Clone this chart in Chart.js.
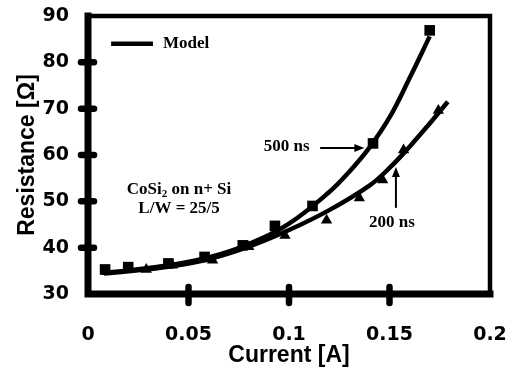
<!DOCTYPE html>
<html>
<head>
<meta charset="utf-8">
<script src="https://cdn.jsdelivr.net/npm/chart.js@4.4.1/dist/chart.umd.min.js"></script>
<style>
  html, body { margin: 0; padding: 0; background: #fff; }
  #wrap { width: 507px; height: 371px; position: relative; }
</style>
</head>
<body>
<div id="wrap"><canvas id="c" width="507" height="371"></canvas></div>
<script>
// Axis ticks
const xTicks = [0, 0.05, 0.1, 0.15, 0.2];
const xTickLabels = ['0', '0.05', '0.1', '0.15', '0.2'];
const yTicks = [30, 40, 50, 60, 70, 80, 90];

// Measured resistance, 500 ns pulses (squares)
const meas500I = [0.0085, 0.020, 0.040, 0.058, 0.077, 0.093, 0.1117, 0.1418, 0.170];
const meas500R = [35.3, 35.8, 36.6, 38.0, 40.5, 44.7, 49.0, 62.5, 86.9];

// Measured resistance, 200 ns pulses (triangles)
const meas200I = [0.0095, 0.029, 0.042, 0.062, 0.080, 0.098, 0.1187, 0.135, 0.1466, 0.157, 0.1743];
const meas200R = [34.8, 35.3, 36.2, 37.3, 40.2, 42.6, 45.9, 50.7, 54.6, 61.1, 69.6];

// Model curves
const model500I = [0.008, 0.02, 0.04, 0.06, 0.08, 0.10, 0.12, 0.13, 0.14, 0.15, 0.16, 0.17];
const model500R = [34.6, 35.1, 36.2, 37.9, 40.8, 45.2, 52.0, 56.4, 61.6, 68.1, 76.6, 85.6];
const model200I = [0.008, 0.02, 0.04, 0.06, 0.08, 0.10, 0.12, 0.14, 0.15, 0.16, 0.17, 0.179];
const model200R = [34.4, 34.9, 35.9, 37.5, 40.2, 43.8, 48.1, 53.4, 57.2, 61.8, 66.8, 71.5];

const pts = (xs, ys) => xs.map((x, i) => ({ x: x, y: ys[i] }));

const serifBold = 'bold 17px "Liberation Serif", "Times New Roman", serif';
const serifSub = 'bold 11px "Liberation Serif", "Times New Roman", serif';

// Frame, crossing tick marks, legend and text notes
const decorations = {
  id: 'decorations',
  afterDatasetsDraw(chart) {
    const ctx = chart.ctx;
    const xs = chart.scales.x, ys = chart.scales.y;
    const a = chart.chartArea;
    const px = v => xs.getPixelForValue(v);
    const py = v => ys.getPixelForValue(v);
    ctx.save();
    ctx.strokeStyle = '#000';
    ctx.fillStyle = '#000';

    // top and right border
    ctx.lineWidth = 4.5;
    ctx.lineCap = 'square';
    ctx.beginPath();
    ctx.moveTo(a.left, a.top);
    ctx.lineTo(a.right, a.top);
    ctx.lineTo(a.right, a.bottom);
    ctx.stroke();
    // left and bottom axes
    ctx.lineWidth = 7;
    ctx.beginPath();
    ctx.moveTo(a.left, a.top);
    ctx.lineTo(a.left, a.bottom);
    ctx.lineTo(a.right, a.bottom);
    ctx.stroke();

    // tick marks crossing the axes
    ctx.lineWidth = 6.5;
    ctx.lineCap = 'round';
    yTicks.slice(1, -1).forEach(v => {
      const y = py(v);
      ctx.beginPath();
      ctx.moveTo(a.left - 7, y);
      ctx.lineTo(a.left + 6, y);
      ctx.stroke();
    });
    xTicks.slice(1, -1).forEach(v => {
      const x = px(v);
      ctx.beginPath();
      ctx.moveTo(x, a.bottom - 7);
      ctx.lineTo(x, a.bottom + 9);
      ctx.stroke();
    });

    // legend
    ctx.lineCap = 'butt';
    ctx.lineWidth = 4.5;
    ctx.beginPath();
    ctx.moveTo(px(0.0115), py(84));
    ctx.lineTo(px(0.0323), py(84));
    ctx.stroke();
    ctx.font = serifBold;
    ctx.textBaseline = 'middle';
    ctx.textAlign = 'left';
    ctx.fillText('Model', px(0.0373), py(84));

    // sample description, with subscript
    const cx = px(0.0453);
    const s1 = 'CoSi', s2 = '2', s3 = ' on n+ Si';
    ctx.font = serifBold;
    const w1 = ctx.measureText(s1).width, w3 = ctx.measureText(s3).width;
    ctx.font = serifSub;
    const w2 = ctx.measureText(s2).width;
    const x0 = cx - (w1 + w2 + w3) / 2;
    const yl = py(52.6);
    ctx.font = serifBold;
    ctx.fillText(s1, x0, yl);
    ctx.font = serifSub;
    ctx.fillText(s2, x0 + w1, yl + 5);
    ctx.font = serifBold;
    ctx.fillText(s3, x0 + w1 + w2, yl);
    ctx.textAlign = 'center';
    ctx.fillText('L/W = 25/5', cx, py(48.5));

    // pulse width notes with arrows
    ctx.textAlign = 'right';
    ctx.fillText('500 ns', px(0.1102), py(61.9));
    ctx.textAlign = 'center';
    ctx.fillText('200 ns', px(0.1512), py(45.4));

    ctx.lineWidth = 2;
    const ay = py(61.5);
    const ax0 = px(0.1155), ax1 = px(0.1375);
    ctx.beginPath();
    ctx.moveTo(ax0, ay);
    ctx.lineTo(ax1 - 8, ay);
    ctx.stroke();
    ctx.beginPath();
    ctx.moveTo(ax1, ay);
    ctx.lineTo(ax1 - 10, ay - 4);
    ctx.lineTo(ax1 - 10, ay + 4);
    ctx.closePath();
    ctx.fill();

    const bx = px(0.1532), by0 = py(48.6), by1 = py(57.4);
    ctx.beginPath();
    ctx.moveTo(bx, by0);
    ctx.lineTo(bx, by1 + 8);
    ctx.stroke();
    ctx.beginPath();
    ctx.moveTo(bx, by1);
    ctx.lineTo(bx - 4, by1 + 10);
    ctx.lineTo(bx + 4, by1 + 10);
    ctx.closePath();
    ctx.fill();

    ctx.restore();
  }
};

const tickFont = { family: '"DejaVu Sans", sans-serif', size: 19, weight: 'bold' };
const titleFont = { family: '"Liberation Sans", Arial, sans-serif', size: 23, weight: 'bold' };

new Chart(document.getElementById('c'), {
  type: 'scatter',
  data: {
    datasets: [
      {
        label: '500 ns',
        data: pts(meas500I, meas500R),
        pointStyle: 'rect',
        pointRadius: 7.5,
        backgroundColor: '#000',
        borderColor: '#000',
        borderWidth: 0,
        showLine: false
      },
      {
        label: '200 ns',
        data: pts(meas200I, meas200R),
        pointStyle: 'triangle',
        pointRadius: 6.5,
        backgroundColor: '#000',
        borderColor: '#000',
        borderWidth: 0,
        showLine: false
      },
      {
        label: 'Model 500 ns',
        data: pts(model500I, model500R),
        showLine: true,
        pointRadius: 0,
        borderColor: '#000',
        borderWidth: 4.5,
        tension: 0.4,
        fill: false
      },
      {
        label: 'Model 200 ns',
        data: pts(model200I, model200R),
        showLine: true,
        pointRadius: 0,
        borderColor: '#000',
        borderWidth: 4.5,
        tension: 0.4,
        fill: false
      }
    ]
  },
  options: {
    responsive: false,
    animation: false,
    devicePixelRatio: 1,
    layout: { padding: { top: 16, right: 17, left: 0, bottom: 0 } },
    plugins: { legend: { display: false }, tooltip: { enabled: false } },
    scales: {
      x: {
        type: 'linear',
        min: 0, max: 0.2,
        afterBuildTicks: s => { s.ticks = xTicks.map(v => ({ value: v })); },
        afterFit: s => { s.height = 77; s.paddingLeft = 0; s.paddingRight = 0; },
        grid: { display: false },
        border: { display: false },
        ticks: {
          color: '#000',
          font: tickFont,
          padding: 22,
          maxRotation: 0,
          callback: (v, i) => xTickLabels[i]
        },
        title: {
          display: true,
          text: 'Current [A]',
          color: '#000',
          font: titleFont,
          padding: { top: 0, bottom: 2 }
        }
      },
      y: {
        type: 'linear',
        min: 30, max: 90,
        afterBuildTicks: s => { s.ticks = yTicks.map(v => ({ value: v })); },
        afterFit: s => { s.width = 88; s.paddingTop = 0; s.paddingBottom = 0; },
        grid: { display: false },
        border: { display: false },
        ticks: {
          color: '#000',
          font: tickFont,
          padding: 11,
          callback: v => String(v)
        },
        title: {
          display: true,
          text: 'Resistance [Ω]',
          color: '#000',
          font: titleFont,
          padding: { top: 14, bottom: 0 }
        }
      }
    }
  },
  plugins: [decorations]
});
</script>
</body>
</html>
